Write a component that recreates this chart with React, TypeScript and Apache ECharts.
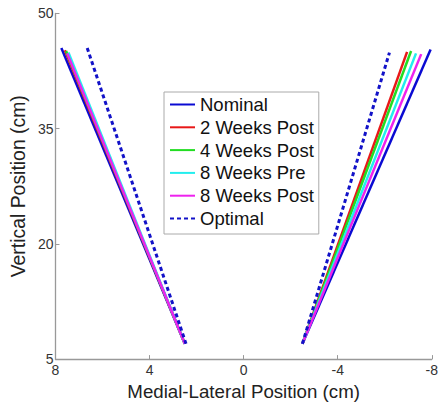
import React, { useEffect, useRef } from "react";
import * as echarts from "echarts";

const seriesNames = ["Nominal", "2 Weeks Post", "4 Weeks Post", "8 Weeks Pre", "8 Weeks Post", "Optimal"];
const seriesColors = ["#0a0ad2", "#e81818", "#22dd22", "#22eeee", "#ee22ee", "#1212c8"];
// left branch: [top point, bottom point]
const leftBranches: number[][][] = [
  [[7.75, 45.5], [2.5, 7.0]],
  [[7.6, 45.2], [2.5, 7.0]],
  [[7.55, 45.1], [2.5, 7.0]],
  [[7.45, 44.9], [2.5, 7.0]],
  [[7.5, 44.8], [2.5, 7.0]],
  [[6.65, 45.5], [2.45, 7.0]],
];
// right branch: [bottom point, top point]
const rightBranches: number[][][] = [
  [[-2.5, 7.0], [-7.95, 45.3]],
  [[-2.5, 7.0], [-6.95, 45.0]],
  [[-2.5, 7.0], [-7.12, 45.1]],
  [[-2.5, 7.0], [-7.33, 44.8]],
  [[-2.5, 7.0], [-7.55, 44.7]],
  [[-2.5, 7.0], [-6.2, 44.9]],
];
const xTicks = { min: -8, max: 8, interval: 4 };
const yTicks = { min: 5, max: 50, interval: 15 };

const FONT = "'Liberation Sans', Arial, sans-serif";

export default function App() {
  const ref = useRef<HTMLDivElement>(null);
  useEffect(() => {
    if (!ref.current) return;
    const chart = echarts.init(ref.current, undefined, { renderer: "svg" });
    const series: any[] = [];
    seriesNames.forEach((name, i) => {
      const dashed = name === "Optimal";
      const lineStyle = {
        color: seriesColors[i],
        width: dashed ? 3 : 2.5,
        type: dashed ? [4, 3] : "solid",
      };
      [leftBranches[i], rightBranches[i]].forEach((d) => {
        series.push({
          type: "line",
          name,
          data: d,
          symbol: "none",
          showSymbol: false,
          color: seriesColors[i],
          lineStyle,
          silent: true,
        });
      });
    });
    chart.setOption({
      animation: false,
      backgroundColor: "#ffffff",
      textStyle: { fontFamily: FONT },
      grid: { left: 46, right: 1, top: 13.4, bottom: 38.5, containLabel: false },
      xAxis: {
        type: "value",
        inverse: true,
        min: xTicks.min,
        max: xTicks.max,
        interval: xTicks.interval,
        name: "Medial-Lateral Position (cm)",
        nameLocation: "middle",
        nameGap: 19,
        nameTextStyle: { fontSize: 18.7, color: "#222", fontFamily: FONT },
        axisLine: { onZero: false, lineStyle: { color: "#999", width: 1.3 } },
        axisTick: { inside: true, length: 4, lineStyle: { color: "#999" } },
        axisLabel: { fontSize: 14, color: "#333", margin: 4, fontFamily: FONT },
        splitLine: { show: false },
      },
      yAxis: {
        type: "value",
        min: yTicks.min,
        max: yTicks.max,
        interval: yTicks.interval,
        name: "Vertical Position (cm)",
        nameLocation: "middle",
        nameGap: 21,
        nameTextStyle: { fontSize: 19.4, color: "#222", fontFamily: FONT },
        axisLine: { show: true, onZero: false, lineStyle: { color: "#999", width: 1.3 } },
        axisTick: { show: true, inside: true, length: 4, lineStyle: { color: "#999" } },
        axisLabel: { fontSize: 14, color: "#333", margin: 2, fontFamily: FONT },
        splitLine: { show: false },
      },
      legend: {
        orient: "vertical",
        left: 164,
        top: 92,
        padding: [3, 5, 6, 5],
        itemGap: 3.8,
        itemWidth: 25,
        itemHeight: 14,
        borderColor: "#aaa",
        borderWidth: 1,
        backgroundColor: "#fff",
        selectedMode: false,
        itemStyle: { opacity: 0 },
        textStyle: { fontSize: 18.5, color: "#111", lineHeight: 18, fontFamily: FONT },
        data: seriesNames,
      },
      series,
    });
    return () => chart.dispose();
  }, []);
  return <div ref={ref} style={{ width: 441, height: 406, position: "absolute", left: 0, top: 0 }} />;
}
